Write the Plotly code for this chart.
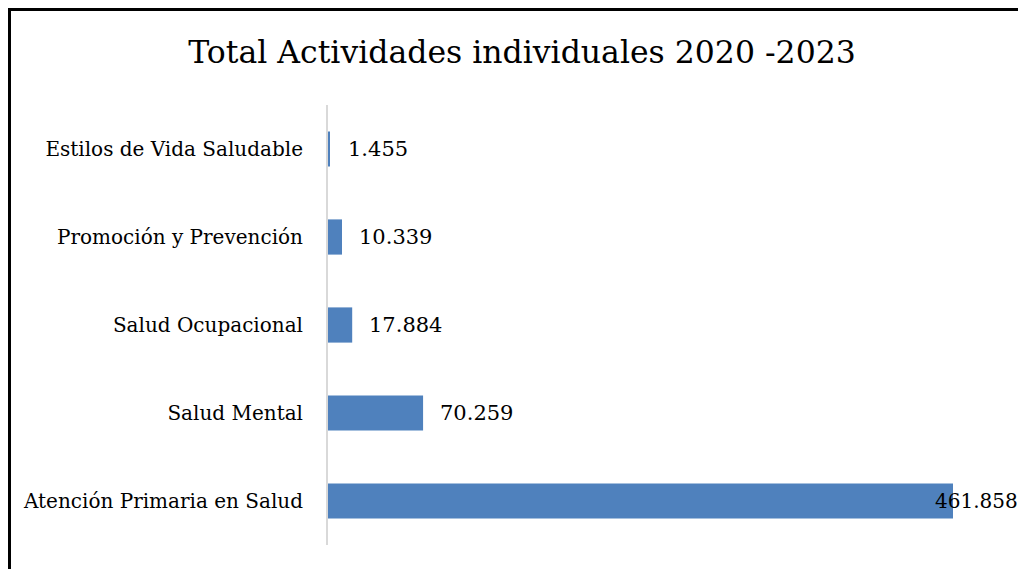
import plotly.graph_objects as go

categories = ["Atención Primaria en Salud", "Salud Mental", "Salud Ocupacional",
              "Promoción y Prevención", "Estilos de Vida Saludable"]
values = [461858, 70259, 17884, 10339, 1455]
title_text = "Total Actividades individuales 2020 -2023"

W, H = 1026, 569
L, R, T, B = 320, 16, 97, 32
FONT = "DejaVu Serif"

def fmt(v):
    return f"{v:,}".replace(",", ".")

# x range so that the largest bar ends near the right edge area
xmax = max(values) * (W - R - L) / 625.0

fig = go.Figure()
fig.add_trace(go.Bar(
    y=categories, x=values, orientation="h",
    marker=dict(color="#4f81bd", line=dict(width=0)),
    width=0.4, hoverinfo="skip",
))

label_shift = [-20, 15, 15, 15, 16]
label_size = [20, 21, 21, 21, 21]
for c, v, s, fs in zip(categories, values, label_shift, label_size):
    fig.add_annotation(x=v, y=c, text=fmt(v), showarrow=False,
                       xanchor="left", yanchor="middle", xshift=s,
                       font=dict(family=FONT, size=fs, color="#000000"))

pw = W - L - R
ph = H - T - B
fig.add_shape(type="rect", xref="paper", yref="paper",
              x0=-(L - 1.5) / pw, x1=1 + 60 / pw,
              y0=-(B + 40) / ph, y1=1 + (T - 1.5) / ph,
              line=dict(color="#000000", width=3), fillcolor="rgba(0,0,0,0)", layer="above")

fig.update_layout(
    width=W, height=H,
    margin=dict(l=L, r=R, t=T, b=B),
    paper_bgcolor="white", plot_bgcolor="white",
    showlegend=False,
    title=dict(text=title_text, x=(522 - 8) / W, xanchor="center", y=1 - 44 / H, yanchor="middle",
               font=dict(family=FONT, size=31.5, color="#000000")),
    xaxis=dict(range=[0, xmax], visible=False, showgrid=False, zeroline=False),
    yaxis=dict(showline=True, linecolor="#d9d9d9", linewidth=2, showgrid=False,
               ticks="", ticklen=0, tickfont=dict(family=FONT, size=20, color="#000000"),
               ticklabelstandoff=19),
    bargap=0.6,
)

fig.write_html("out.html")
